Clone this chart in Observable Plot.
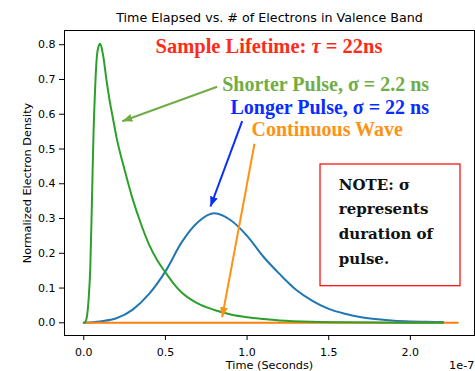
<!DOCTYPE html>
<html><head><meta charset="utf-8">
<script src="https://cdn.jsdelivr.net/npm/d3@7"></script>
<script src="https://cdn.jsdelivr.net/npm/@observablehq/plot@0.6"></script>
<style>body{margin:0;background:#fff}svg{display:block}</style>
</head><body><div id="chart"></div>
<script>
// Time in units of 1e-7 s
const shortT = [0, 0.01, 0.02, 0.03, 0.04, 0.05, 0.06, 0.07, 0.08, 0.09, 0.10, 0.11, 0.12, 0.14, 0.16, 0.18, 0.20, 0.25, 0.30, 0.35, 0.40, 0.45, 0.50, 0.55, 0.60, 0.70, 0.80, 0.90, 1.00, 1.10, 1.20, 1.40, 1.60, 1.80, 2.00, 2.20];
const shortN = [0, 0.003, 0.02, 0.07, 0.16, 0.35, 0.55, 0.68, 0.765, 0.795, 0.803, 0.79, 0.765, 0.695, 0.635, 0.585, 0.535, 0.44, 0.355, 0.285, 0.225, 0.18, 0.145, 0.113, 0.087, 0.055, 0.037, 0.024, 0.016, 0.011, 0.007, 0.003, 0.0015, 0.0008, 0.0004, 0.0002];
const longT = [0, 0.1, 0.2, 0.3, 0.4, 0.5, 0.6, 0.7, 0.8, 0.9, 1.0, 1.1, 1.2, 1.3, 1.4, 1.5, 1.6, 1.7, 1.8, 1.9, 2.0, 2.1, 2.2];
const longN = [0, 0.004, 0.013, 0.038, 0.083, 0.148, 0.232, 0.29, 0.315, 0.295, 0.25, 0.19, 0.14, 0.095, 0.063, 0.04, 0.026, 0.016, 0.01, 0.006, 0.004, 0.003, 0.002];
const cwT = [0, 2.29];
const cwN = [0, 0];

const xTicks = [0, 0.5, 1.0, 1.5, 2.0];
const yTicks = [0, 0.1, 0.2, 0.3, 0.4, 0.5, 0.6, 0.7, 0.8];
const titleText = "Time Elapsed vs. # of Electrons in Valence Band";
const xLabel = "Time (Seconds)";
const yLabel = "Normalized Electron Density";
const offsetLabel = "1e-7";

// annotations (data units)
const annLabels = ["Sample Lifetime: τ = 22ns", "Shorter Pulse, σ = 2.2 ns", "Longer Pulse, σ = 22 ns", "Continuous Wave"];
const annX = [1.134, 0.8475, 0.898, 1.027];
const annY = [0.7954, 0.685, 0.618, 0.5545];
const annColors = ["#ff2a1a", "#70ad47", "#0a2dff", "#ff9215"];
const arrowFromX = [0.817, 0.970, 1.0455];
const arrowFromY = [0.679, 0.580, 0.515];
const arrowToX = [0.236, 0.776, 0.8475];
const arrowToY = [0.580, 0.3346, 0.0161];
const arrowColors = ["#70ad47", "#0a2dff", "#ff9215"];
const noteText = "NOTE: σ\nrepresents\nduration of\npulse.";
const noteBox = {x1: 1.4497, x2: 2.307, y1: 0.1053, y2: 0.4554};
const noteAt = {x: 1.5617, y: 0.2994};

const shortData = shortT.map((t, i) => ({t, n: shortN[i]}));
const longData = longT.map((t, i) => ({t, n: longN[i]}));
const cwData = cwT.map((t, i) => ({t, n: cwN[i]}));
const arrows = arrowFromX.map((x, i) => ({x1: x, y1: arrowFromY[i], x2: arrowToX[i], y2: arrowToY[i], c: arrowColors[i]}));

function triMarker(color, context) {
  const m = d3.create("svg:marker")
    .attr("viewBox", "-10 -5 10 10")
    .attr("markerWidth", 5).attr("markerHeight", 5)
    .attr("orient", "auto")
    .attr("fill", color).attr("stroke", "none");
  m.append("path").attr("d", "M-10,-4L0,0L-10,4Z");
  return m.node();
}

function build(useCustom) {
  const arrowMarks = useCustom
    ? arrows.map(a => Plot.link([a], {x1: "x1", y1: "y1", x2: "x2", y2: "y2", stroke: a.c, strokeWidth: 2, markerEnd: triMarker}))
    : arrows.map(a => Plot.arrow([a], {x1: "x1", y1: "y1", x2: "x2", y2: "y2", stroke: a.c, strokeWidth: 2, headLength: 10, headAngle: 45}));
  return Plot.plot({
    width: 475, height: 371,
    marginLeft: 64, marginRight: 1, marginTop: 30, marginBottom: 36,
    style: {fontFamily: "'DejaVu Sans', sans-serif", fontSize: "11px", background: "white", color: "black"},
    x: {domain: [-0.118, 2.3927]},
    y: {domain: [-0.0365, 0.8409]},
    marks: [
      Plot.rect([noteBox], {x1: "x1", x2: "x2", y1: "y1", y2: "y2", fill: "white", stroke: "#ff0000", strokeWidth: 1.2}),
      Plot.line(longData, {x: "t", y: "n", stroke: "#1f77b4", strokeWidth: 2, curve: "monotone-x"}),
      Plot.line(cwData, {x: "t", y: "n", stroke: "#ff7f0e", strokeWidth: 2}),
      Plot.line(shortData, {x: "t", y: "n", stroke: "#2ca02c", strokeWidth: 2, curve: "monotone-x"}),
      ...arrowMarks,
      ...annLabels.map((s, i) => Plot.text([s], {x: annX[i], y: annY[i], text: d => d, fill: annColors[i],
        fontSize: i === 0 ? 20.5 : 20, fontWeight: "bold", fontFamily: "'Liberation Serif', 'Times New Roman', serif",
        textAnchor: i === 0 ? "middle" : "start", lineAnchor: "middle"})),
      Plot.text([noteText], {x: noteAt.x, y: noteAt.y, text: d => d, fill: "#111", fontSize: 15, fontWeight: "bold",
        fontFamily: "'DejaVu Serif', serif", textAnchor: "start", lineAnchor: "middle", lineHeight: 1.65}),
      Plot.frame({stroke: "black", strokeWidth: 1}),
      Plot.axisX(xTicks, {tickSize: 5, tickPadding: 7.2, tickFormat: d => d.toFixed(1), fontSize: 11, label: null, strokeWidth: 1}),
      Plot.axisY(yTicks, {tickSize: 5, tickPadding: 4, tickFormat: d => d.toFixed(1), fontSize: 11, label: null, strokeWidth: 1}),
      Plot.text([titleText], {frameAnchor: "top", dy: -12.1, text: d => d, fontSize: 12.7, textAnchor: "middle", lineAnchor: "middle", fill: "black"}),
      Plot.text([xLabel], {frameAnchor: "bottom", dy: 29.4, text: d => d, fontSize: 11.3, textAnchor: "middle", lineAnchor: "middle", fill: "black"}),
      Plot.text([offsetLabel], {frameAnchor: "bottom-right", dy: 29.4, text: d => d, fontSize: 11.3, textAnchor: "end", lineAnchor: "middle", fill: "black"}),
      Plot.text([yLabel], {frameAnchor: "left", dx: -37.6, rotate: -90, text: d => d, fontSize: 11.3, textAnchor: "middle", lineAnchor: "middle", fill: "black"})
    ]
  });
}

let chart;
try { chart = build(true); } catch (e) { console.error(e); chart = build(false); }
document.getElementById("chart").appendChild(chart);

// italic tau
d3.select(chart).selectAll("text").each(function() {
  if (this.textContent === annLabels[0]) {
    const parts = annLabels[0].split("τ");
    const sel = d3.select(this);
    sel.text(null);
    sel.append("tspan").text(parts[0]);
    sel.append("tspan").attr("font-style", "italic").text("τ");
    sel.append("tspan").text(parts[1]);
  }
});
</script>
</body></html>
